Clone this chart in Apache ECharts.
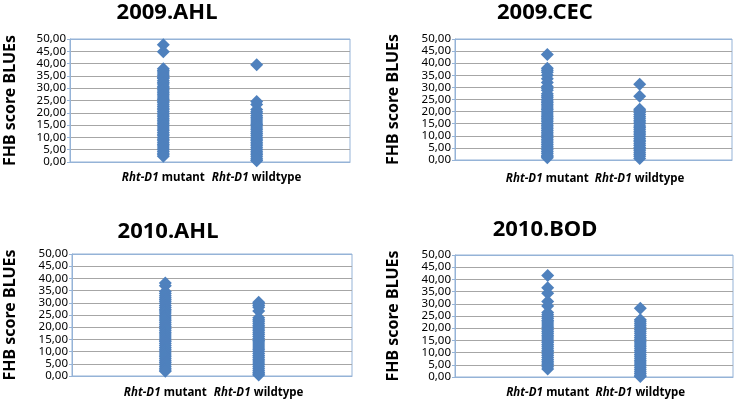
<!DOCTYPE html>
<html>
<head>
<meta charset="utf-8">
<script src="https://cdn.jsdelivr.net/npm/echarts@6/dist/echarts.min.js"></script>
<style>html,body{margin:0;padding:0;background:#fff;}#c{width:739px;height:404px;}</style>
</head>
<body>
<div id="c"></div>
<script>
var titles = ['2009.AHL', '2009.CEC', '2010.AHL', '2010.BOD'];
var categoryLabels = ['Rht-D1 mutant', 'Rht-D1 wildtype'];
var yTicks = [0, 5, 10, 15, 20, 25, 30, 35, 40, 45, 50];
var yName = 'FHB score BLUEs';

var ahl09Mutant = [47.7, 44.8, 37.9, 37.2, 36.6, 35.8, 35.1, 34.4, 33.9, 33.0, 32.3, 31.7, 30.8, 30.2, 29.6, 28.9, 28.1, 27.5, 26.8, 26.0, 25.4, 24.7, 24.1, 23.3, 22.6, 21.9, 21.2, 20.5, 19.8, 19.1, 18.4, 17.6, 17.0, 16.3, 15.5, 14.9, 14.2, 13.4, 12.8, 12.0, 11.3, 10.7, 9.9, 9.2, 8.6, 7.8, 7.1, 6.5, 5.7, 5.0, 4.3, 3.6, 2.9, 2.3];
var ahl09Wild = [39.5, 24.6, 23.4, 21.3, 20.4, 19.8, 18.9, 18.2, 17.5, 16.7, 15.9, 15.2, 14.6, 13.8, 13.1, 12.3, 11.6, 10.9, 10.1, 9.4, 8.8, 8.0, 7.3, 6.6, 5.8, 5.1, 4.4, 3.7, 3.0, 2.3, 1.5, 0.8, 0.5];
var cec09Mutant = [43.6, 37.9, 37.1, 36.3, 35.0, 33.6, 32.0, 30.4, 29.6, 28.8, 27.4, 26.5, 25.9, 25.1, 24.4, 23.8, 23.0, 22.3, 21.5, 20.9, 20.1, 19.4, 18.6, 17.9, 17.3, 16.5, 15.8, 15.0, 14.4, 13.6, 12.9, 12.2, 11.5, 10.7, 10.0, 9.3, 8.6, 7.9, 7.1, 6.4, 5.7, 5.0, 4.2, 3.5, 2.8, 2.0, 1.4, 0.9];
var cec09Wild = [31.3, 26.3, 21.0, 20.3, 19.6, 18.8, 18.0, 17.3, 16.4, 15.7, 15.0, 14.1, 13.4, 12.7, 11.9, 11.2, 10.4, 9.7, 8.9, 8.2, 7.5, 6.7, 6.0, 5.2, 4.5, 3.8, 3.0, 2.3, 1.5, 0.6];
var ahl10Mutant = [38.1, 37.0, 34.6, 33.8, 32.9, 32.1, 31.4, 30.6, 29.8, 28.9, 28.1, 27.3, 26.6, 25.8, 24.9, 24.2, 23.4, 22.6, 21.8, 21.0, 20.3, 19.5, 18.7, 17.9, 17.2, 16.4, 15.6, 14.8, 14.1, 13.3, 12.5, 11.7, 11.0, 10.2, 9.4, 8.6, 7.9, 7.1, 6.3, 5.5, 4.8, 4.0, 3.2, 2.5, 1.9];
var ahl10Wild = [30.2, 29.6, 28.9, 28.2, 26.6, 23.9, 23.1, 22.4, 21.6, 20.8, 20.1, 19.3, 18.5, 17.7, 17.0, 16.2, 15.4, 14.6, 13.9, 13.1, 12.3, 11.5, 10.8, 10.0, 9.2, 8.4, 7.7, 6.9, 6.1, 5.3, 4.6, 3.8, 3.0, 2.2, 1.4, 0.8, 0.4];
var bod10Mutant = [41.6, 36.6, 34.3, 30.9, 29.1, 26.4, 25.5, 24.7, 24.0, 23.2, 22.5, 21.7, 20.9, 20.2, 19.4, 18.6, 17.9, 17.1, 16.4, 15.6, 14.8, 14.1, 13.3, 12.6, 11.8, 11.0, 10.3, 9.5, 8.8, 8.0, 7.2, 6.5, 5.7, 5.0, 4.2, 3.3];
var bod10Wild = [28.2, 23.5, 22.8, 22.0, 21.2, 20.4, 19.5, 18.7, 17.9, 17.0, 16.2, 15.5, 14.7, 13.9, 13.1, 12.4, 11.6, 10.8, 10.0, 9.2, 8.5, 7.7, 6.9, 6.1, 5.3, 4.6, 3.8, 3.0, 2.2, 1.4, 0.7, 0.2];

var panelData = [
  [ahl09Mutant, ahl09Wild],
  [cec09Mutant, cec09Wild],
  [ahl10Mutant, ahl10Wild],
  [bod10Mutant, bod10Wild]
];

var FONT = 'Noto Sans';
var BLUE = '#4f81bd';
var BORDER = '#95b3d7';
var GRIDC = '#a6a6a6';

var grids = [
  {left: 70, top: 39, width: 280, height: 123},
  {left: 455, top: 39, width: 277, height: 121},
  {left: 72, top: 254, width: 280, height: 122},
  {left: 455, top: 255, width: 278, height: 122}
];
var titlePos = [
  {x: 167, y: 2}, {x: 545, y: 2}, {x: 168, y: 221}, {x: 545, y: 219}
];
var nameGaps = [52, 54, 54, 54];
var xMargins = [10, 13, 11, 10];

var splitColors = [BORDER];
for (var k = 1; k < yTicks.length - 1; k++) splitColors.push(GRIDC);
splitColors.push(BORDER);

var option = {
  animation: false,
  backgroundColor: '#ffffff',
  title: [], grid: [], xAxis: [], yAxis: [], series: []
};

function catFormatter(v) {
  if (v === 1 || v === 2) {
    var parts = categoryLabels[v - 1].split(' ');
    return '{i|' + parts[0] + '} {b|' + parts[1] + '}';
  }
  return '';
}
function yFormatter(v) { return v.toFixed(2).replace('.', ','); }

for (var i = 0; i < 4; i++) {
  option.title.push({
    text: titles[i], left: titlePos[i].x, top: titlePos[i].y, textAlign: 'center', padding: 0,
    textStyle: {fontFamily: FONT, fontSize: 22, fontWeight: 'bold', color: '#000'}
  });
  option.grid.push(Object.assign({show: true, borderColor: BORDER, borderWidth: 1, backgroundColor: 'transparent'}, grids[i]));
  option.xAxis.push({
    type: 'value', gridIndex: i, min: 0, max: 3, interval: 1,
    axisLine: {show: true, lineStyle: {color: BORDER}},
    axisTick: {show: false},
    splitLine: {show: false},
    axisLabel: {
      margin: xMargins[i],
      showMinLabel: false, showMaxLabel: false,
      formatter: catFormatter,
      rich: {
        i: {fontFamily: FONT, fontSize: 11.5, fontWeight: 'bold', fontStyle: 'italic', color: '#000'},
        b: {fontFamily: FONT, fontSize: 11.5, fontWeight: 'bold', color: '#000'}
      }
    }
  });
  option.yAxis.push({
    type: 'value', gridIndex: i, min: 0, max: 50, interval: 5,
    name: yName, nameLocation: 'middle', nameRotate: 90, nameGap: nameGaps[i],
    nameTextStyle: {fontFamily: FONT, fontSize: 16, fontWeight: 'bold', color: '#000'},
    axisLine: {show: true, lineStyle: {color: BORDER}},
    axisTick: {show: true, length: 3, inside: false, lineStyle: {color: BORDER}},
    splitLine: {show: true, lineStyle: {color: splitColors, width: 1}},
    axisLabel: {margin: 4, fontFamily: FONT, fontSize: 11.5, color: '#000', formatter: yFormatter}
  });
}

panelData.forEach(function (pair, p) {
  pair.forEach(function (vals, s) {
    option.series.push({
      type: 'scatter', xAxisIndex: p, yAxisIndex: p,
      symbol: 'diamond', symbolSize: 13,
      itemStyle: {color: BLUE, opacity: 1},
      data: vals.map(function (v) { return [s + 1, v]; })
    });
  });
});

var chart = echarts.init(document.getElementById('c'), null, {renderer: 'canvas'});
chart.setOption(option);
</script>
</body>
</html>
